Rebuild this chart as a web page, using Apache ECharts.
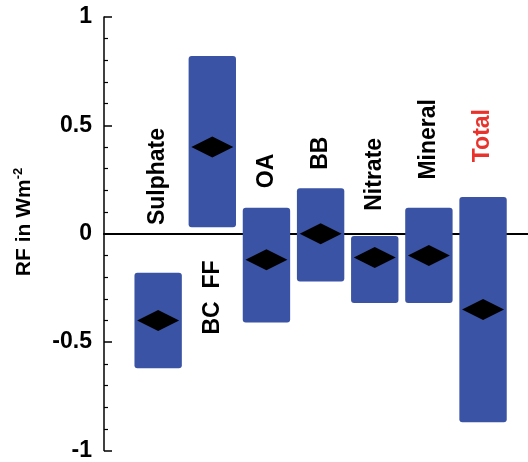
<!DOCTYPE html>
<html>
<head>
<meta charset="utf-8">
<script src="https://cdn.jsdelivr.net/npm/echarts@6/dist/echarts.min.js"></script>
<style>
  html, body { margin: 0; padding: 0; background: #fff; }
  #chart { width: 528px; height: 462px; }
</style>
</head>
<body>
<div id="chart"></div>
<script>
// Aerosol radiative forcing components (W m^-2)
const categories = ['Sulphate', 'BC  FF', 'OA', 'BB', 'Nitrate', 'Mineral', 'Total'];
const central = [-0.40, 0.40, -0.12, 0.00, -0.11, -0.10, -0.35];
const rangeLow = [-0.62, 0.03, -0.41, -0.22, -0.32, -0.32, -0.87];
const rangeHigh = [-0.18, 0.82, 0.12, 0.21, -0.01, 0.12, 0.17];
const yTicks = [-1, -0.5, 0, 0.5, 1];

// Where each rotated category name begins (in W m^-2), and its colour
const labelStart = [0.04, -0.465, 0.21, 0.295, 0.106, 0.25, 0.33];
const labelColor = ['#000', '#000', '#000', '#000', '#000', '#000', '#e8322b'];

const BAR_WIDTH = 0.875;   // in category units
const X_MIN = -1;
const X_MAX = 6.83;
const BLUE = '#3a53a5';
const FONT = '"Liberation Sans", Arial, sans-serif';

const chart = echarts.init(document.getElementById('chart'));

const rangeData = categories.map((c, i) => [i, rangeLow[i], rangeHigh[i]]);
const centralData = central.map((v, i) => [i, v]);
const labelData = categories.map((c, i) => [i, labelStart[i], c, labelColor[i]]);

chart.setOption({
  animation: false,
  grid: { left: 104, right: 0, top: 17, bottom: 10 },
  graphic: [{
    type: 'text',
    x: 12,
    y: 222,
    rotation: Math.PI / 2,
    style: {
      text: '{t|RF in Wm}{s|-2}',
      align: 'center',
      verticalAlign: 'top',
      rich: {
        t: { fontFamily: FONT, fontWeight: 'bold', fontSize: 21, fill: '#000', lineHeight: 24 },
        s: { fontFamily: FONT, fontWeight: 'bold', fontSize: 13, fill: '#000', verticalAlign: 'top', lineHeight: 24 }
      }
    }
  }],
  xAxis: {
    type: 'value',
    min: X_MIN,
    max: X_MAX,
    axisLine: { show: true, onZero: true, lineStyle: { color: '#000', width: 2 } },
    axisTick: { show: false },
    axisLabel: { show: false },
    splitLine: { show: false }
  },
  yAxis: {
    type: 'value',
    min: yTicks[0],
    max: yTicks[yTicks.length - 1],
    interval: 0.5,
    axisLine: { show: true, onZero: false, lineStyle: { color: '#000', width: 1.5 } },
    axisTick: { show: true, inside: true, length: 8, lineStyle: { color: '#000', width: 1.5 } },
    minorTick: { show: true, splitNumber: 5, length: 4, lineStyle: { color: '#000', width: 1.2 } },
    axisLabel: {
      margin: 12,
      fontFamily: FONT,
      fontWeight: 'bold',
      fontSize: 23,
      color: '#000',
      formatter: v => String(v)
    },
    splitLine: { show: false }
  },
  series: [
    {
      type: 'custom',
      name: 'range',
      data: rangeData,
      encode: { x: 0, y: [1, 2] },
      z: 2,
      renderItem: (params, api) => {
        const x = api.value(0);
        const lo = api.coord([x, api.value(1)]);
        const hi = api.coord([x, api.value(2)]);
        const w = api.size([BAR_WIDTH, 0])[0];
        return {
          type: 'rect',
          shape: { x: lo[0] - w / 2, y: hi[1], width: w, height: lo[1] - hi[1], r: 3 },
          style: { fill: BLUE }
        };
      }
    },
    {
      type: 'scatter',
      name: 'central',
      data: centralData,
      symbol: 'diamond',
      symbolSize: [42, 21],
      itemStyle: { color: '#000', opacity: 1 },
      z: 3
    },
    {
      type: 'custom',
      name: 'names',
      data: labelData,
      encode: { x: 0, y: 1 },
      z: 4,
      renderItem: (params, api) => {
        const i = params.dataIndex;
        const p = api.coord([api.value(0), api.value(1)]);
        return {
          type: 'text',
          x: p[0],
          y: p[1],
          rotation: Math.PI / 2,
          style: {
            text: labelData[i][2],
            fill: labelData[i][3],
            font: 'bold 23px ' + FONT,
            align: 'left',
            verticalAlign: 'middle'
          }
        };
      }
    }
  ]
});
</script>
</body>
</html>
